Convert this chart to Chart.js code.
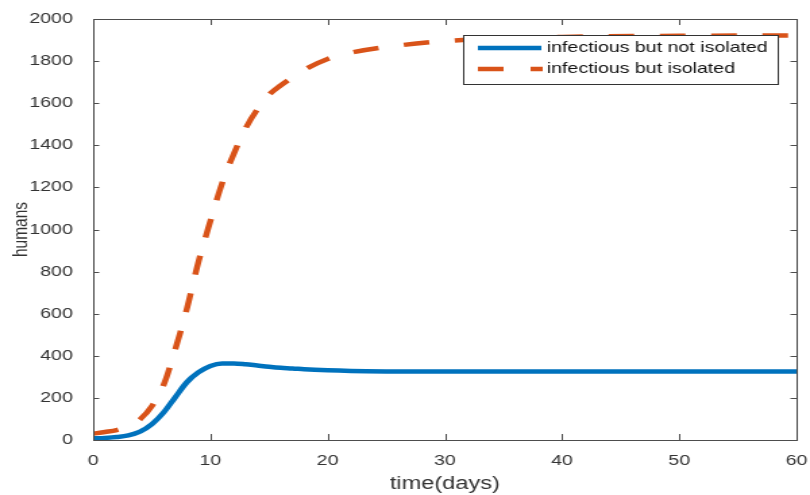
<!DOCTYPE html>
<html>
<head>
<meta charset="utf-8">
<script src="https://cdn.jsdelivr.net/npm/chart.js@4/dist/chart.umd.min.js"></script>
<style>
  html, body { margin: 0; padding: 0; background: #fff; overflow: hidden; }
  /* the reference is stretched sideways, so the canvas is drawn narrow and widened by CSS */
  #c { display: block; width: 810px !important; height: 495px !important; }
</style>
</head>
<body>
<canvas id="c" width="600" height="495"></canvas>
<script>
// days
var days = [0, 1, 2, 3, 4, 5, 6, 7, 8, 9, 10, 11, 12, 13, 14, 15, 16, 17, 18, 20, 22, 25, 30, 35, 40, 50, 60];
// infectious but not isolated
var notIsolated = [8, 10, 14, 22, 40, 75, 130, 203, 275, 322, 352, 364, 364, 360, 354, 348, 343, 340, 336, 331, 328, 326, 325, 325, 325, 325, 325];
// infectious but isolated
var isolated = [30, 38, 47, 65, 98, 160, 260, 430, 625, 850, 1040, 1220, 1360, 1480, 1570, 1640, 1685, 1722, 1758, 1810, 1840, 1867, 1895, 1908, 1915, 1920, 1922];

var xTicks = [0, 10, 20, 30, 40, 50, 60];
var yTicks = [0, 200, 400, 600, 800, 1000, 1200, 1400, 1600, 1800, 2000];

var blue = '#0072BD';
var orange = '#D95319';
var axisColor = '#4d4d4d';
var font = '"Liberation Sans", Arial, sans-serif';

function pts(xs, ys) {
  return xs.map(function (x, i) { return { x: x, y: ys[i] }; });
}

var frame = {
  id: 'frame',
  afterDraw: function (chart) {
    var ctx = chart.ctx, a = chart.chartArea;
    var xs = chart.scales.x, ys = chart.scales.y;
    ctx.save();
    ctx.strokeStyle = axisColor;
    ctx.lineWidth = 1;
    ctx.strokeRect(a.left + 0.5, a.top + 0.5, a.right - a.left, a.bottom - a.top);
    ctx.beginPath();
    xTicks.forEach(function (v) {
      var px = Math.round(xs.getPixelForValue(v)) + 0.5;
      ctx.moveTo(px, a.bottom); ctx.lineTo(px, a.bottom - 6);
      ctx.moveTo(px, a.top); ctx.lineTo(px, a.top + 6);
    });
    yTicks.forEach(function (v) {
      var py = Math.round(ys.getPixelForValue(v)) + 0.5;
      ctx.moveTo(a.left, py); ctx.lineTo(a.left + 4.5, py);
      ctx.moveTo(a.right, py); ctx.lineTo(a.right - 4.5, py);
    });
    ctx.stroke();

    // legend
    var bx = 343, by = 35, bw = 233, bh = 49;
    ctx.fillStyle = '#fff';
    ctx.fillRect(bx, by, bw, bh);
    ctx.strokeStyle = '#333';
    ctx.strokeRect(bx + 0.5, by + 0.5, bw, bh);
    ctx.lineWidth = 4.5;
    ctx.strokeStyle = blue;
    ctx.beginPath(); ctx.moveTo(354, 48); ctx.lineTo(401, 48); ctx.stroke();
    ctx.strokeStyle = orange;
    ctx.setLineDash([19, 20]);
    ctx.beginPath(); ctx.moveTo(354, 69); ctx.lineTo(402, 69); ctx.stroke();
    ctx.setLineDash([]);
    ctx.fillStyle = '#111';
    ctx.font = '14.5px ' + font;
    ctx.textBaseline = 'middle';
    ctx.fillText('infectious but not isolated', 405, 48);
    ctx.fillText('infectious but isolated', 405, 69);
    ctx.restore();
  }
};

new Chart(document.getElementById('c'), {
  type: 'line',
  data: {
    datasets: [{
      label: 'infectious but not isolated',
      data: pts(days, notIsolated),
      borderColor: blue,
      borderWidth: 4.5,
      pointRadius: 0,
      cubicInterpolationMode: 'monotone',
      fill: false
    }, {
      label: 'infectious but isolated',
      data: pts(days, isolated),
      borderColor: orange,
      borderWidth: 4.5,
      borderDash: [19, 19],
      pointRadius: 0,
      cubicInterpolationMode: 'monotone',
      fill: false
    }]
  },
  options: {
    responsive: false,
    animation: false,
    layout: { padding: { top: 19, right: 10, left: 0, bottom: 0 } },
    plugins: { legend: { display: false }, tooltip: { enabled: false } },
    scales: {
      x: {
        type: 'linear', min: 0, max: 60,
        afterBuildTicks: function (s) { s.ticks = xTicks.map(function (v) { return { value: v }; }); },
        afterFit: function (s) { s.height = 55; s.paddingLeft = 0; s.paddingRight = 0; },
        grid: { display: false },
        border: { display: false },
        ticks: { color: '#333', font: { size: 14.5, family: font }, padding: 4, callback: function (v) { return String(v); } },
        title: { display: true, text: 'time(days)', color: '#333', font: { size: 17.5, family: font }, padding: { top: 0, bottom: 0 } }
      },
      y: {
        min: 0, max: 2000,
        afterBuildTicks: function (s) { s.ticks = yTicks.map(function (v) { return { value: v }; }); },
        afterFit: function (s) { s.width = 69; s.paddingTop = 0; s.paddingBottom = 0; },
        grid: { display: false },
        border: { display: false },
        ticks: { color: '#333', font: { size: 14.5, family: font }, padding: 7, callback: function (v) { return String(v); } },
        title: { display: true, text: 'humans', color: '#333', font: { size: 15.5, family: font }, padding: { top: 6, bottom: 0 } }
      }
    }
  },
  plugins: [frame]
});
</script>
</body>
</html>
